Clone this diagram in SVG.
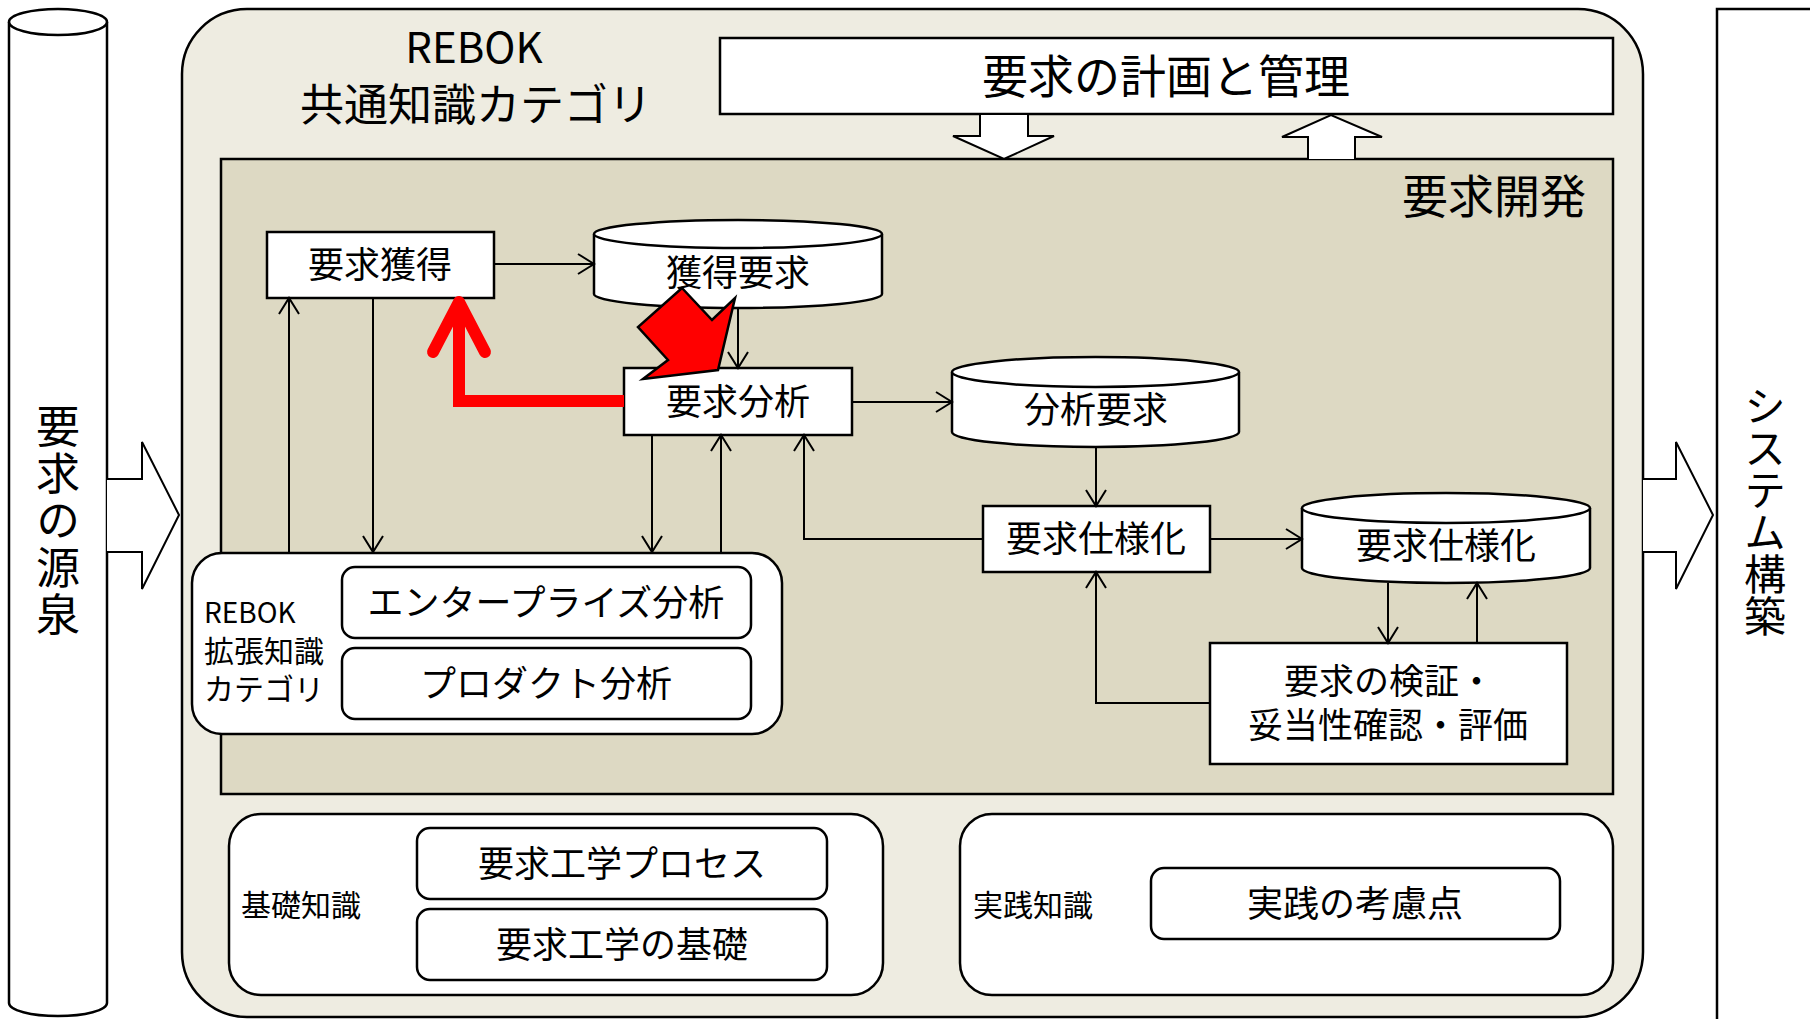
<svg xmlns="http://www.w3.org/2000/svg" width="1810" height="1019" viewBox="0 0 1810 1019">
<defs>
<style>
text{font-family:"Noto Sans CJK JP","Noto Sans",sans-serif;fill:#000}
.box{fill:#fff;stroke:#000;stroke-width:2.5}
.c{text-anchor:middle}
.n{font-size:36px}
.v{writing-mode:vertical-rl;text-orientation:upright}
.ln{fill:none;stroke:#000;stroke-width:2}
.blk{fill:#fff;stroke:#000;stroke-width:2}
</style>
<marker id="arr" viewBox="0 0 20 22" refX="18" refY="11" markerWidth="20" markerHeight="22" markerUnits="userSpaceOnUse" orient="auto"><path d="M2,1 L18,11 L2,21" fill="none" stroke="#000" stroke-width="2"/></marker>
</defs>
<rect width="1810" height="1019" fill="#fff"/>

<g id="source">
<path class="box" d="M9,22 L9,1003 A49,13 0 0 0 107,1003 L107,22"/>
<ellipse class="box" cx="58" cy="22" rx="49" ry="13"/>
<text class="v" font-size="44" letter-spacing="3" x="58" y="404">要求の源泉</text>
</g>

<g id="system">
<rect class="box" x="1717" y="9" width="120" height="1030"/>
<text class="v" font-size="42" x="1765" y="385">システム構築</text>
</g>

<g id="common">
<rect x="182" y="9" width="1461" height="1008" rx="65" ry="65" fill="#EEECE1" stroke="#000" stroke-width="2.5"/>
<text class="c" font-size="42" x="474" y="63">REBOK</text>
<text class="c" font-size="44" x="476" y="121">共通知識カテゴリ</text>
</g>

<g id="plan">
<rect class="box" x="720" y="38" width="893" height="76"/>
<text class="c" font-size="46" x="1166" y="93">要求の計画と管理</text>
</g>

<g id="devarea">
<rect x="221" y="159" width="1392" height="635" fill="#DDD9C3" stroke="#000" stroke-width="2.5"/>
<text font-size="46" text-anchor="end" x="1586" y="213">要求開発</text>
</g>

<g id="blockarrows">
<path class="blk" d="M980,114 L1028,114 L1028,136 L1054,136 L1004,159 L953,136 L980,136 Z"/>
<path class="blk" d="M1308,159 L1308,137 L1282,137 L1331,115 L1382,137 L1355,137 L1355,159"/>
<path class="blk" d="M107,479 L142,479 L142,442 L179,515 L142,589 L142,552 L107,552"/>
<path class="blk" d="M1643,479 L1676,479 L1676,442 L1713,515 L1676,589 L1676,552 L1643,552"/>
</g>

<g id="n-elicit">
<rect class="box" x="267" y="232" width="227" height="66"/>
<text class="c n" x="380" y="278">要求獲得</text>
</g>

<g id="d-elicited">
<path class="box" d="M594,234 L594,294 A144,14 0 0 0 882,294 L882,234"/>
<ellipse class="box" cx="738" cy="234" rx="144" ry="14"/>
<text class="c n" x="738" y="286">獲得要求</text>
</g>

<g id="n-analysis">
<rect class="box" x="624" y="368" width="228" height="67"/>
<text class="c n" x="738" y="415">要求分析</text>
</g>

<g id="d-analyzed">
<path class="box" d="M952,372 L952,432 A143.5,15 0 0 0 1239,432 L1239,372"/>
<ellipse class="box" cx="1095.5" cy="372" rx="143.5" ry="15"/>
<text class="c n" x="1096" y="423">分析要求</text>
</g>

<g id="n-spec">
<rect class="box" x="983" y="506" width="227" height="66"/>
<text class="c n" x="1096" y="552">要求仕様化</text>
</g>

<g id="d-spec">
<path class="box" d="M1302,508 L1302,568 A144,15 0 0 0 1590,568 L1590,508"/>
<ellipse class="box" cx="1446" cy="508" rx="144" ry="15"/>
<text class="c n" x="1446" y="559">要求仕様化</text>
</g>

<g id="n-verify">
<rect class="box" x="1210" y="643" width="357" height="121"/>
<text class="c" font-size="35"><tspan x="1389" y="694">要求の検証・</tspan><tspan x="1388" y="738">妥当性確認・評価</tspan></text>
</g>

<g id="ext">
<rect class="box" x="192" y="553" width="590" height="181" rx="30" ry="30"/>
<text font-size="30"><tspan x="204" y="623" font-size="28">REBOK</tspan><tspan x="204" y="662">拡張知識</tspan><tspan x="204" y="700">カテゴリ</tspan></text>
<rect class="box" x="342" y="567" width="409" height="71" rx="13" ry="13"/>
<text class="c n" x="546" y="616">エンタープライズ分析</text>
<rect class="box" x="342" y="648" width="409" height="71" rx="13" ry="13"/>
<text class="c n" x="546" y="697">プロダクト分析</text>
</g>

<g id="basic">
<rect class="box" x="229" y="814" width="654" height="181" rx="32" ry="32"/>
<text font-size="30" x="241" y="916">基礎知識</text>
<rect class="box" x="417" y="828" width="410" height="71" rx="13" ry="13"/>
<text class="c n" x="622" y="877">要求工学プロセス</text>
<rect class="box" x="417" y="909" width="410" height="71" rx="13" ry="13"/>
<text class="c n" x="622" y="958">要求工学の基礎</text>
</g>

<g id="practice">
<rect class="box" x="960" y="814" width="653" height="181" rx="32" ry="32"/>
<text font-size="30" x="973" y="916">実践知識</text>
<rect class="box" x="1151" y="868" width="409" height="71" rx="13" ry="13"/>
<text class="c n" x="1355" y="917">実践の考慮点</text>
</g>

<g id="connectors">
<line class="ln" x1="494" y1="264" x2="594" y2="264" marker-end="url(#arr)"/>
<line class="ln" x1="738" y1="308" x2="738" y2="368" marker-end="url(#arr)"/>
<line class="ln" x1="289" y1="552" x2="289" y2="298" marker-end="url(#arr)"/>
<line class="ln" x1="373" y1="298" x2="373" y2="552" marker-end="url(#arr)"/>
<line class="ln" x1="652" y1="435" x2="652" y2="552" marker-end="url(#arr)"/>
<line class="ln" x1="721" y1="552" x2="721" y2="435" marker-end="url(#arr)"/>
<polyline class="ln" points="983,539 804,539 804,435" marker-end="url(#arr)"/>
<line class="ln" x1="852" y1="402" x2="952" y2="402" marker-end="url(#arr)"/>
<line class="ln" x1="1096" y1="447" x2="1096" y2="506" marker-end="url(#arr)"/>
<line class="ln" x1="1210" y1="539" x2="1302" y2="539" marker-end="url(#arr)"/>
<line class="ln" x1="1388" y1="583" x2="1388" y2="643" marker-end="url(#arr)"/>
<line class="ln" x1="1477" y1="643" x2="1477" y2="583" marker-end="url(#arr)"/>
<polyline class="ln" points="1210,703 1096,703 1096,572" marker-end="url(#arr)"/>
<polyline points="624,401 459,401 459,306" fill="none" stroke="#f00" stroke-width="12"/>
<polyline points="433,352 459,302 485,352" fill="none" stroke="#f00" stroke-width="12" stroke-linecap="round" stroke-linejoin="round"/>
<polygon points="682,288 712,320 735,298 718,370 643,379 668,360 638,327" fill="#f00" stroke="#000" stroke-width="2.5"/>
</g>
</svg>
